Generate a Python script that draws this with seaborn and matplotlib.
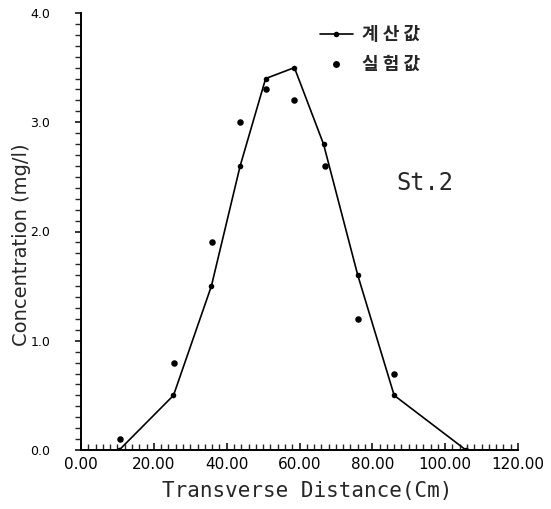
import matplotlib
matplotlib.use("Agg")
import matplotlib.pyplot as plt
import seaborn as sns
import pandas as pd
from matplotlib.lines import Line2D
from matplotlib.ticker import MultipleLocator, FormatStrFormatter

# ---- data ----
x_calc = [10.5, 25.4, 35.8, 43.7, 50.7, 58.6, 66.6, 76.0, 86.0, 105.7]
y_calc = [0.0, 0.5, 1.5, 2.6, 3.4, 3.5, 2.8, 1.6, 0.5, 0.0]
x_meas = [10.7, 25.5, 35.9, 43.7, 50.7, 58.6, 67.0, 76.0, 85.9]
y_meas = [0.1, 0.8, 1.9, 3.0, 3.3, 3.2, 2.6, 1.2, 0.7]
label_calc = "계 산 값"
label_meas = "실 험 값"
x_ticks = [0, 20, 40, 60, 80, 100, 120]
y_ticks = [0.0, 1.0, 2.0, 3.0, 4.0]
y_tick_labels = ["0.0", "1.0", "2.0", "3.0", "4.0"]
station = "St.2"

sns.set_theme(style="ticks")
plt.rcParams['font.family'] = ['DejaVu Sans']

df_calc = pd.DataFrame({"x": x_calc, "y": y_calc})
df_meas = pd.DataFrame({"x": x_meas, "y": y_meas})

fig = plt.figure(figsize=(5.51, 5.09), dpi=100)
ax = fig.add_axes([81/551, 1-450/509, (518-81)/551, (450-13)/509])

sns.lineplot(data=df_calc, x="x", y="y", ax=ax, sort=False, estimator=None,
             color="black", linewidth=1.2, marker="o", markersize=4,
             markeredgewidth=0)
sns.scatterplot(data=df_meas, x="x", y="y", ax=ax, color="black", s=22,
                linewidth=0)

ax.set_xlim(0, 120)
ax.set_ylim(0, 4.0)
ax.set_xticks(x_ticks)
ax.xaxis.set_major_formatter(FormatStrFormatter("%.2f"))
ax.xaxis.set_minor_locator(MultipleLocator(2))
ax.set_yticks(y_ticks)
ax.set_yticklabels(y_tick_labels)
ax.yaxis.set_minor_locator(MultipleLocator(0.1))

for s in ["top", "right"]:
    ax.spines[s].set_visible(False)
for s in ["left", "bottom"]:
    ax.spines[s].set_linewidth(1.4)
    ax.spines[s].set_color("black")

ax.tick_params(axis="x", which="major", direction="in", length=5, width=1.1,
               labelsize=11, pad=5, colors="black")
ax.tick_params(axis="x", which="minor", direction="in", length=4, width=1.0)
ax.tick_params(axis="y", which="major", direction="out", length=4, width=1.1,
               labelsize=9, pad=18, colors="black")
ax.tick_params(axis="y", which="minor", direction="out", length=4, width=1.0)

ax.set_xlabel("")
ax.set_ylabel("")
fig.text(307/551, 1-491/509, "Transverse Distance(Cm)", ha="center", va="center",
         family="DejaVu Sans Mono", fontsize=15)
fig.text(22/551, 1-245/509, "Concentration (mg/l)", ha="center", va="center",
         rotation=90, fontsize=14)
fig.text(425/551, 1-183/509, station, ha="center", va="center",
         family="DejaVu Sans Mono", fontsize=17)

handles = [
    Line2D([0], [0], color="black", linewidth=1.2, marker="o", markersize=4,
           markeredgewidth=0),
    Line2D([0], [0], color="black", linestyle="none", marker="o", markersize=5,
           markeredgewidth=0),
]
ax.legend(handles, [label_calc, label_meas], loc="upper left",
          bbox_to_anchor=((320-81)/437, 1.0 - 12/437), frameon=False,
          borderpad=0, borderaxespad=0, handlelength=1.8,
          handletextpad=0.5, labelspacing=0.62,
          prop={"family": ["Noto Sans CJK KR", "DejaVu Sans"], "weight": "bold",
                "size": 13})

fig.savefig("out.png", dpi=100)
